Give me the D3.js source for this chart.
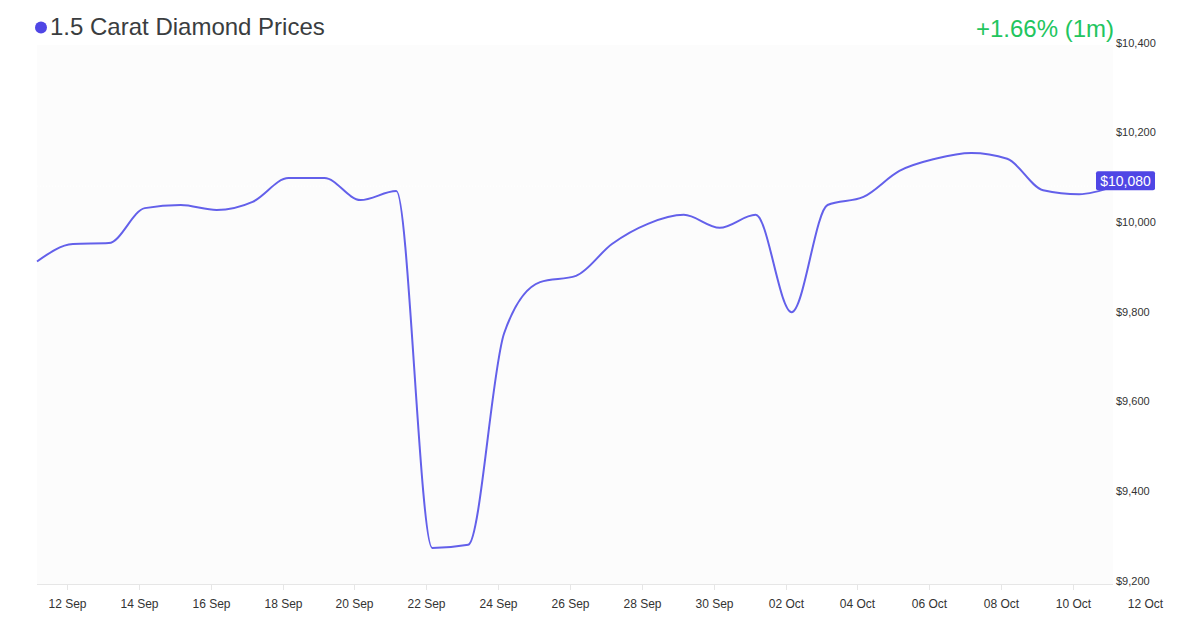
<!DOCTYPE html>
<html>
<head>
<meta charset="utf-8">
<script src="https://cdn.jsdelivr.net/npm/d3@7/dist/d3.min.js"></script>
<style>
  html, body { margin: 0; padding: 0; background: #ffffff; }
  svg { display: block; font-family: "Liberation Sans", Arial, sans-serif; }
</style>
</head>
<body>
<svg id="chart" width="1200" height="630"></svg>
<script>
// ---- Data ----
const title = "1.5 Carat Diamond Prices";
const changeLabel = "+1.66% (1m)";
const dates = [
  "2023-09-11","2023-09-12","2023-09-13","2023-09-14","2023-09-15","2023-09-16",
  "2023-09-17","2023-09-18","2023-09-19","2023-09-20","2023-09-21","2023-09-22",
  "2023-09-23","2023-09-24","2023-09-25","2023-09-26","2023-09-27","2023-09-28",
  "2023-09-29","2023-09-30","2023-10-01","2023-10-02","2023-10-03","2023-10-04",
  "2023-10-05","2023-10-06","2023-10-07","2023-10-08","2023-10-09","2023-10-10",
  "2023-10-11"
];
const prices = [
  9912, 9951, 9953, 10031, 10038, 10027,
  10045, 10098, 10098, 10049, 10069, 9273,
  9280, 9752, 9866, 9880, 9951, 9996,
  10016, 9987, 10016, 9799, 10038, 10056,
  10114, 10141, 10154, 10141, 10071, 10062,
  10080
];
const yTicks = [9200, 9400, 9600, 9800, 10000, 10200, 10400];
const xTickDates = [
  "2023-09-12","2023-09-14","2023-09-16","2023-09-18","2023-09-20","2023-09-22",
  "2023-09-24","2023-09-26","2023-09-28","2023-09-30","2023-10-02","2023-10-04",
  "2023-10-06","2023-10-08","2023-10-10","2023-10-12"
];
const xTickLabels = [
  "12 Sep","14 Sep","16 Sep","18 Sep","20 Sep","22 Sep","24 Sep","26 Sep",
  "28 Sep","30 Sep","02 Oct","04 Oct","06 Oct","08 Oct","10 Oct","12 Oct"
];

// ---- Layout ----
const plot = { left: 37, right: 1113, top: 45, bottom: 584 };
const parse = s => new Date(s + "T04:00:00");
const data = dates.map((d, i) => ({ date: parse(d), value: prices[i] }));

const x = d3.scaleTime()
  .domain([data[0].date, data[data.length - 1].date])
  .range([plot.left, plot.right + 2]);
const y = d3.scaleLinear()
  .domain([9200, 10400])
  .range([580.7, 42.7]);

const svg = d3.select("#chart");

// plot background
svg.append("rect")
  .attr("x", plot.left).attr("y", plot.top)
  .attr("width", plot.right - plot.left).attr("height", plot.bottom - plot.top)
  .attr("fill", "#fcfcfc");

// x axis line
svg.append("line")
  .attr("x1", plot.left).attr("x2", plot.right)
  .attr("y1", plot.bottom + 0.5).attr("y2", plot.bottom + 0.5)
  .attr("stroke", "#e6e6e6").attr("stroke-width", 1);

// x ticks & labels
const xt = svg.append("g");
xTickDates.forEach((d, i) => {
  const px = Math.round(x(new Date(d + "T00:00:00"))) + 0.5;
  if (px <= plot.right) {
    xt.append("line")
      .attr("x1", px).attr("x2", px)
      .attr("y1", plot.bottom).attr("y2", plot.bottom + 6)
      .attr("stroke", "#e6e6e6");
  }
  xt.append("text")
    .attr("x", px).attr("y", 608)
    .attr("text-anchor", "middle")
    .attr("font-size", 12)
    .attr("fill", "#333333")
    .text(xTickLabels[i]);
});

// y tick labels
const yt = svg.append("g");
yTicks.forEach(v => {
  yt.append("text")
    .attr("x", 1116).attr("y", y(v))
    .attr("dy", "0.35em")
    .attr("font-size", 11)
    .attr("fill", "#333333")
    .text("$" + d3.format(",")(v));
});

// last price dotted line
const last = data[data.length - 1];
svg.append("line")
  .attr("x1", plot.left).attr("x2", plot.right)
  .attr("y1", y(last.value)).attr("y2", y(last.value))
  .attr("stroke", "#ffffff").attr("stroke-width", 1)
  .attr("stroke-dasharray", "1,2");

// price line
const line = d3.line()
  .x(d => x(d.date))
  .y(d => y(d.value))
  .curve(d3.curveMonotoneX);

svg.append("path")
  .datum(data)
  .attr("d", line)
  .attr("fill", "none")
  .attr("stroke", "#6360ea")
  .attr("stroke-width", 2)
  .attr("stroke-linejoin", "round");

// last price label
const ly = y(last.value) - 5.5;
svg.append("rect")
  .attr("x", 1096).attr("y", ly - 9.5)
  .attr("width", 59).attr("height", 19)
  .attr("rx", 2)
  .attr("fill", "#4f46e5");
svg.append("text")
  .attr("x", 1125.5).attr("y", ly)
  .attr("dy", "0.36em")
  .attr("text-anchor", "middle")
  .attr("font-size", 14)
  .attr("fill", "#ffffff")
  .text("$" + d3.format(",")(last.value));

// title
svg.append("circle")
  .attr("cx", 41).attr("cy", 27.5).attr("r", 6)
  .attr("fill", "#4f46e5");
svg.append("text")
  .attr("x", 50).attr("y", 34.5)
  .attr("font-size", 24)
  .attr("fill", "#3a3d40")
  .text(title);

// change label
svg.append("text")
  .attr("x", 1114).attr("y", 37)
  .attr("text-anchor", "end")
  .attr("font-size", 24)
  .attr("fill", "#22c55e")
  .text(changeLabel);
</script>
</body>
</html>
